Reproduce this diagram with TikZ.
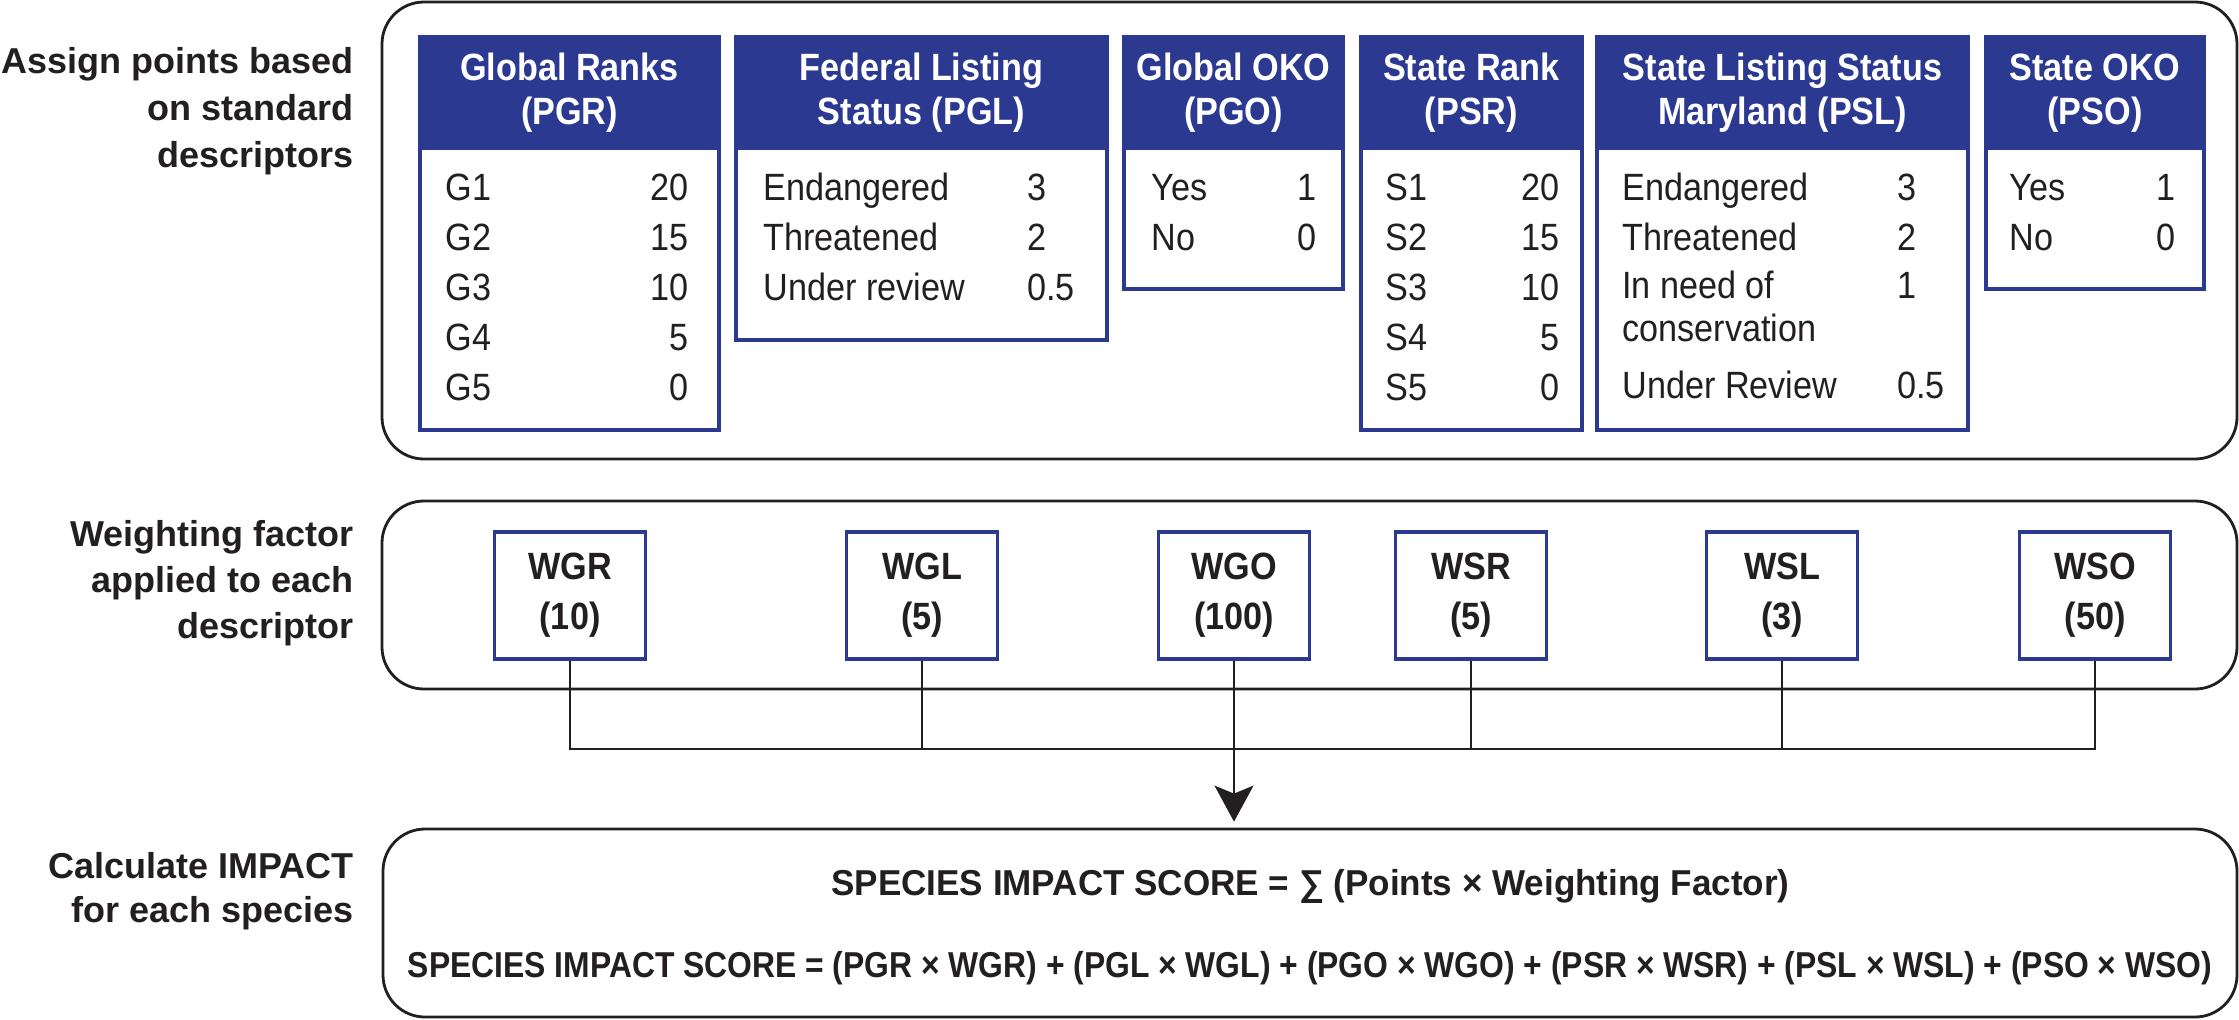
\documentclass[tikz,border=0pt]{standalone}
\usepackage{fontspec}
\usepackage{graphicx}
\setmainfont{Liberation Sans}
\newfontfamily\cond[FakeStretch=0.9]{Liberation Sans}
\usetikzlibrary{arrows.meta}
\definecolor{navy}{RGB}{43,57,144}
\definecolor{ink}{RGB}{35,31,32}
\begin{document}
\begin{tikzpicture}[x=0.5pt,y=-0.5pt,
  lbl/.style={font=\fontsize{18}{22}\selectfont\bfseries, text=ink, inner sep=0, anchor=base east},
  hd/.style={font=\cond\fontsize{19}{22}\selectfont\bfseries, text=white, inner sep=0, anchor=base},
  cell/.style={font=\cond\fontsize{19}{22}\selectfont, text=ink, inner sep=0, anchor=base west},
  val/.style={cell, anchor=base east},
  band/.style={draw=ink, line width=1.4pt, rounded corners=21pt, rectangle, inner sep=0},
  tbl/.style={draw=navy, line width=2pt, fill=white},
  wbox/.style={draw=navy, line width=1.7pt, fill=white, minimum width=75.5pt, minimum height=63.5pt, inner sep=0, align=center, text=ink, font=\cond\fontsize{19}{25}\selectfont\bfseries},
  wire/.style={line width=1pt, draw=ink},
  formula/.style={inner sep=0, anchor=base, text=ink}
]
\useasboundingbox (0,0) rectangle (2239,1019);

% bands
\node[band, minimum width=927.5pt, minimum height=228.5pt] (band1) at (1309.5,230.5) {};
\node[band, minimum width=927.5pt, minimum height=94pt] (band2) at (1309.5,595) {};
\node[band, minimum width=927pt, minimum height=94pt] (band3) at (1310,923) {};

% left labels
\node[lbl] (la1) at (354,73) {Assign points based};
\node[lbl] (la2) at (354,120) {on standard};
\node[lbl] (la3) at (354,167) {descriptors};
\node[lbl] (lb1) at (354,546) {Weighting factor};
\node[lbl] (lb2) at (354,592) {applied to each};
\node[lbl] (lb3) at (354,638) {descriptor};
\node[lbl] (lc1) at (354,878) {Calculate IMPACT};
\node[lbl] (lc2) at (354,922) {for each species};

% tables
\draw[tbl] (420,37) rectangle (719,430);   \fill[navy] (420,37) rectangle (719,150);
\draw[tbl] (736,37) rectangle (1107,340);  \fill[navy] (736,37) rectangle (1107,150);
\draw[tbl] (1124,37) rectangle (1343,289); \fill[navy] (1124,37) rectangle (1343,150);
\draw[tbl] (1361,37) rectangle (1582,430); \fill[navy] (1361,37) rectangle (1582,150);
\draw[tbl] (1597,37) rectangle (1968,430); \fill[navy] (1597,37) rectangle (1968,150);
\draw[tbl] (1986,37) rectangle (2204,289); \fill[navy] (1986,37) rectangle (2204,150);

% headers
\node[hd] (h1a) at (569.5,80) {Global Ranks};
\node[hd] (h1b) at (569.5,124) {(PGR)};
\node[hd] (h2a) at (921.5,80) {Federal Listing};
\node[hd] (h2b) at (921.5,124) {Status (PGL)};
\node[hd] (h3a) at (1233.5,80) {Global OKO};
\node[hd] (h3b) at (1233.5,124) {(PGO)};
\node[hd] (h4a) at (1471.5,80) {State Rank};
\node[hd] (h4b) at (1471.5,124) {(PSR)};
\node[hd] (h5a) at (1782.5,80) {State Listing Status};
\node[hd] (h5b) at (1782.5,124) {Maryland (PSL)};
\node[hd] (h6a) at (2095,80) {State OKO};
\node[hd] (h6b) at (2095,124) {(PSO)};

% PGR rows
\foreach \v [count=\k] in {20,15,10,5,0} {
  \node[cell] (pgrl\k) at (445,{150+50*\k}) {G\k};
  \node[val] (pgrv\k) at (689,{150+50*\k}) {\v};
}
% PSR rows
\foreach \v [count=\k] in {20,15,10,5,0} {
  \node[cell] (psrl\k) at (1385,{150+50*\k}) {S\k};
  \node[val] (psrv\k) at (1560,{150+50*\k}) {\v};
}
% PGL rows
\node[cell] (pgll1) at (763,200) {Endangered};   \node[cell] (pglv1) at (1027,200) {3};
\node[cell] (pgll2) at (763,250) {Threatened};   \node[cell] (pglv2) at (1027,250) {2};
\node[cell] (pgll3) at (763,300) {Under review}; \node[cell] (pglv3) at (1027,300) {0.5};
% PGO rows
\node[cell] (pgol1) at (1151,200) {Yes}; \node[val] (pgov1) at (1317,200) {1};
\node[cell] (pgol2) at (1151,250) {No};  \node[val] (pgov2) at (1317,250) {0};
% PSL rows
\node[cell] (psll1) at (1622,200) {Endangered};   \node[cell] (pslv1) at (1897,200) {3};
\node[cell] (psll2) at (1622,250) {Threatened};   \node[cell] (pslv2) at (1897,250) {2};
\node[cell] (psll3) at (1622,298) {In need of};   \node[cell] (pslv3) at (1897,298) {1};
\node[cell] (psll4) at (1622,341) {conservation};
\node[cell] (psll5) at (1622,398) {Under Review}; \node[cell] (pslv5) at (1897,398) {0.5};
% PSO rows
\node[cell] (psol1) at (2009,200) {Yes}; \node[val] (psov1) at (2176,200) {1};
\node[cell] (psol2) at (2009,250) {No};  \node[val] (psov2) at (2176,250) {0};

% weighting boxes
\coordinate (bus) at (0,749);
\node[wbox] (wgr) at (570,595.5) {WGR\\(10)};
\node[wbox] (wgl) at (922,595.5) {WGL\\(5)};
\node[wbox] (wgo) at (1234,595.5) {WGO\\(100)};
\node[wbox] (wsr) at (1471,595.5) {WSR\\(5)};
\node[wbox] (wsl) at (1782,595.5) {WSL\\(3)};
\node[wbox] (wso) at (2095,595.5) {WSO\\(50)};

% connectors
\draw[wire] (wgr.south) -- (wgr.south |- bus) -- (wso.south |- bus) -- (wso.south);
\draw[wire] (wgl.south) -- (wgl.south |- bus);
\draw[wire] (wsr.south) -- (wsr.south |- bus);
\draw[wire] (wsl.south) -- (wsl.south |- bus);
\draw[wire, -{Stealth[length=18pt,width=19.5pt,inset=4pt]}, shorten >=3pt] (wgo.south) -- (wgo.south |- band3.north);

% formulas
\node[formula] (f1) at (1310.5,895) {\resizebox{479pt}{\height}{\fontsize{18}{22}\selectfont\bfseries SPECIES IMPACT SCORE = ∑ (Points × Weighting Factor)}};
\node[formula] (f2) at (1310,977) {\resizebox{902pt}{\height}{\fontsize{18}{22}\selectfont\bfseries SPECIES IMPACT SCORE = (PGR × WGR) + (PGL × WGL) + (PGO × WGO) + (PSR × WSR) + (PSL × WSL) + (PSO × WSO)}};
\end{tikzpicture}
\end{document}
